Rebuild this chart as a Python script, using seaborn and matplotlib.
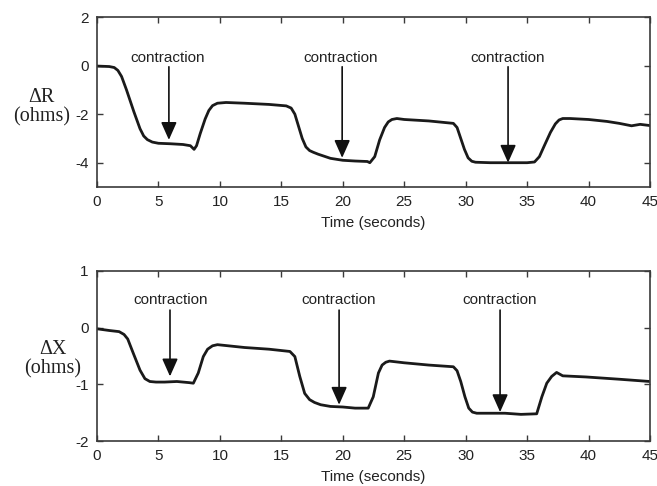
import matplotlib
matplotlib.use("Agg")
import matplotlib.pyplot as plt
import seaborn as sns
import pandas as pd

# ---- data ----
time_r = [0, 1.0, 1.4, 1.7, 2.0, 2.4, 3.0, 3.5, 3.8, 4.1, 4.5, 5.0, 6.0, 7.0, 7.6, 7.9, 8.1, 8.4,
          8.8, 9.1, 9.4, 9.8, 10.5, 12, 14, 15.4, 15.8, 16.1, 16.4, 16.7, 17.0, 17.3, 17.6, 18.0,
          19.0, 20.0, 21.0, 22.0, 22.2, 22.6, 23.0, 23.4, 23.7, 24.0, 24.4, 25, 27, 29.0,
          29.3, 29.6, 29.9, 30.2, 30.5, 30.8, 32, 33.5, 35.0, 35.6, 36.0, 36.4, 36.9, 37.3,
          37.6, 37.9, 38.5, 40.0, 41.5, 42.5, 43.5, 44.2, 45.0]
delta_r = [-0.02, -0.04, -0.08, -0.2, -0.45, -1.0, -1.9, -2.6, -2.9, -3.05, -3.15, -3.2, -3.22,
           -3.25, -3.3, -3.45, -3.3, -2.8, -2.2, -1.85, -1.65, -1.55, -1.52, -1.55, -1.6, -1.66,
           -1.75, -2.0, -2.5, -3.0, -3.35, -3.5, -3.57, -3.65, -3.82, -3.9, -3.93, -3.95, -4.0,
           -3.75, -3.06, -2.55, -2.32, -2.22, -2.18, -2.22, -2.28, -2.38, -2.55, -3.0, -3.45,
           -3.8, -3.94, -3.98, -4.0, -4.0, -4.0, -3.97, -3.75, -3.3, -2.75, -2.4, -2.24, -2.18,
           -2.18, -2.22, -2.3, -2.38, -2.48, -2.42, -2.47]

time_x = [0, 1.0, 1.8, 2.2, 2.5, 2.95, 3.5, 3.9, 4.3, 4.8, 5.5, 6.5, 7.5, 7.84, 8.24, 8.65,
          9.0, 9.4, 9.8, 12, 14, 15.7, 16.1, 16.5, 16.9, 17.3, 17.7, 18.2, 19.0, 20.0, 21.0,
          22.07, 22.48, 22.9, 23.2, 23.5, 23.8, 25.0, 27.0, 29.0, 29.3, 29.6, 29.94, 30.25,
          30.55, 30.9, 31.5, 33.2, 34.5, 35.78, 36.2, 36.6, 37.0, 37.4, 37.9, 39.8, 42.5, 45.0]
delta_x = [-0.02, -0.05, -0.07, -0.12, -0.2, -0.45, -0.75, -0.9, -0.95, -0.96, -0.96, -0.95,
           -0.97, -0.98, -0.8, -0.51, -0.38, -0.32, -0.3, -0.35, -0.38, -0.42, -0.51, -0.86,
           -1.16, -1.27, -1.32, -1.36, -1.39, -1.4, -1.42, -1.42, -1.22, -0.8, -0.66, -0.61,
           -0.59, -0.62, -0.66, -0.69, -0.76, -0.95, -1.22, -1.42, -1.49, -1.51, -1.51, -1.51,
           -1.53, -1.52, -1.22, -0.98, -0.86, -0.79, -0.85, -0.87, -0.91, -0.95]

x_ticks = [0, 5, 10, 15, 20, 25, 30, 35, 40, 45]
r_ticks = [2, 0, -2, -4]
x_ticks_y = [1, 0, -1, -2]

label_text = "contraction"
# annotation: text x, arrow x, arrow tip y
r_annot_text_t = [5.78, 19.85, 33.4]
r_annot_arrow_t = [5.85, 19.95, 33.45]
r_annot_tip = [-3.06, -3.8, -4.0]
x_annot_text_t = [6.0, 19.67, 32.8]
x_annot_arrow_t = [5.94, 19.7, 32.8]
x_annot_tip = [-0.86, -1.36, -1.49]

df_r = pd.DataFrame({"t": time_r, "v": delta_r})
df_x = pd.DataFrame({"t": time_x, "v": delta_x})

sns.set_theme(style="ticks")
plt.rcParams["font.family"] = ["Liberation Sans", "DejaVu Sans"]

fig = plt.figure(figsize=(6.57, 4.86), dpi=100)
ax1 = fig.add_axes([97 / 657, 1 - 187 / 486, 553 / 657, 170 / 486])
ax2 = fig.add_axes([97 / 657, 1 - 441 / 486, 553 / 657, 170 / 486])

line_color = "#1a1a1a"
spine_color = "#3a3a3a"

sns.lineplot(data=df_r, x="t", y="v", ax=ax1, color=line_color, linewidth=2.0)
sns.lineplot(data=df_x, x="t", y="v", ax=ax2, color=line_color, linewidth=2.0)


def style(ax, ylim, yticks, ylabel, ylabel_x, ylabel_y):
    ax.set_xlim(0, 45)
    ax.set_ylim(*ylim)
    ax.set_xticks(x_ticks)
    ax.set_xticklabels([str(t) for t in x_ticks])
    ax.set_yticks(yticks)
    ax.set_yticklabels([str(t) for t in yticks])
    ax.tick_params(direction="in", top=True, right=True, length=4, width=1,
                   color=spine_color, labelsize=11, labelcolor="#222222", pad=6)
    for s in ax.spines.values():
        s.set_color(spine_color)
        s.set_linewidth(1.2)
        s.set_visible(True)
    ax.set_xlabel("Time (seconds)", fontsize=11, color="#222222", labelpad=5)
    ax.set_ylabel(ylabel, rotation=0, fontsize=14.5, family=["Liberation Serif", "DejaVu Serif"],
                  ha="center", va="center", linespacing=1.05, color="#222222")
    ax.yaxis.set_label_coords(ylabel_x, ylabel_y)


style(ax1, (-5, 2), r_ticks, "ΔR\n(ohms)", -0.1, 0.47)
style(ax2, (-2, 1), x_ticks_y, "ΔX\n(ohms)", -0.08, 0.48)


def annotate(ax, text_ts, arrow_ts, text_y, start_y, tips):
    for tt, at, tip in zip(text_ts, arrow_ts, tips):
        ax.text(tt, text_y, label_text, ha="center", va="center", fontsize=11,
                color="#222222")
        ax.annotate("", xy=(at, tip), xytext=(at, start_y),
                    arrowprops=dict(arrowstyle="-|>,head_length=0.9,head_width=0.4",
                                    color="#111111", lw=1.2, shrinkA=0, shrinkB=0,
                                    mutation_scale=12))


annotate(ax1, r_annot_text_t, r_annot_arrow_t, 0.31, -0.05, r_annot_tip)
annotate(ax2, x_annot_text_t, x_annot_arrow_t, 0.49, 0.31, x_annot_tip)

fig.savefig("out.png", dpi=100)
